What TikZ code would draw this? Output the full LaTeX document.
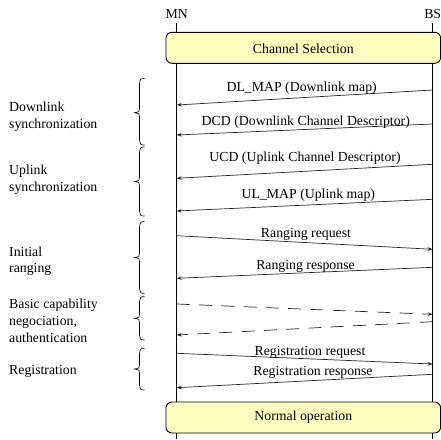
\documentclass[tikz,border=0pt]{standalone}
\usepackage{fontspec}
\setmainfont{Liberation Serif}
\usetikzlibrary{arrows.meta}
\definecolor{phasefill}{HTML}{FFFFC0}

% left curly brace: top, bottom, middle (tip)
\newcommand\sidebrace[3]{%
  \draw[bracestroke] (144.5,#1) .. controls (140.5,#1) .. (139.5,#1+5)
    -- (139.5,#3-4) .. controls (139.5,#3-1) .. (134.5,#3)
    .. controls (139.5,#3+1) .. (139.5,#3+4)
    -- (139.5,#2-5) .. controls (140.5,#2) .. (144.5,#2);}

\begin{document}
\begin{tikzpicture}[x=1pt,y=-1pt,
  every node/.style={font=\fontsize{13.8}{16.7}\selectfont, inner sep=0pt},
  lifeline/.style={line width=0.9pt},
  msg/.style={line width=0.7pt, draw=black!85, -{Stealth[length=5pt,width=3.6pt]}},
  msgdash/.style={msg, dash pattern=on 13pt off 9.3pt},
  phase/.style={draw, line width=0.9pt, rounded corners=6pt, fill=phasefill,
    minimum width=274.7pt, minimum height=31pt},
  msglabel/.style={anchor=base},
  sidelabel/.style={anchor=north west, align=left},
  bracestroke/.style={line width=0.6pt}
]
\useasboundingbox (0,0) rectangle (441,439);

% participants and lifelines
\node[anchor=base] (mn) at (176.7,18.3) {MN};
\node[anchor=base] (bs) at (432.7,18.3) {BS};
\coordinate (mntop) at (176.7,23);
\coordinate (mnbot) at (176.7,439);
\coordinate (bstop) at (432.7,23);
\coordinate (bsbot) at (432.7,439);
\draw[lifeline] (mntop) -- (mnbot);
\draw[lifeline] (bstop) -- (bsbot);

% phase boxes spanning both lifelines
\node[phase, text height=11.6pt, text depth=0pt] (chsel) at (303.3,47.8) {Channel Selection};
\node[phase] (normop) at (303.3,417.5) {Normal operation};

% message end points on the lifelines
\coordinate (b1) at (432.7,90);    \coordinate (m1) at (176.7,105);
\coordinate (b2) at (432.7,124);   \coordinate (m2) at (176.7,135);
\coordinate (b3) at (432.7,164.3); \coordinate (m3) at (176.7,178.3);
\coordinate (b4) at (432.7,199.3); \coordinate (m4) at (176.7,211);
\coordinate (m5) at (176.7,235.7); \coordinate (b5) at (432.7,249.3);
\coordinate (b6) at (432.7,267.3); \coordinate (m6) at (176.7,278.3);
\coordinate (m7) at (176.7,304);   \coordinate (b7) at (432.7,314.3);
\coordinate (b8) at (432.7,321.7); \coordinate (m8) at (176.7,335);
\coordinate (m9) at (176.7,353.3); \coordinate (b9) at (432.7,364);
\coordinate (b10) at (432.7,374.3); \coordinate (m10) at (176.7,387.7);

% messages
\draw[msg] (b1) -- (m1);
\node[msglabel] (l1) at (301.7,91.7) {DL\_MAP (Downlink map)};
\draw[msg] (b2) -- (m2);
\node[msglabel] (l2) at (305.8,125.5) {DCD (Downlink Channel Descriptor)};
\draw[msg] (b3) -- (m3);
\node[msglabel] (l3) at (305,161.7) {UCD (Uplink Channel Descriptor)};
\draw[msg] (b4) -- (m4);
\node[msglabel] (l4) at (308.3,198.3) {UL\_MAP (Uplink map)};
\draw[msg] (m5) -- (b5);
\node[msglabel] (l5) at (306,237.3) {Ranging request};
\draw[msg] (b6) -- (m6);
\node[msglabel] (l6) at (305.5,269) {Ranging response};
\draw[msgdash] (m7) -- (b7);
\draw[msgdash] (b8) -- (m8);
\draw[msg] (m9) -- (b9);
\node[msglabel] (l9) at (310,355) {Registration request};
\draw[msg] (b10) -- (m10);
\node[msglabel] (l10) at (313,375.7) {Registration response};

% phase braces and their captions
\sidebrace{78.5}{145}{112.7}
\sidebrace{147}{216}{181.5}
\sidebrace{221.7}{293.3}{257.5}
\sidebrace{296.7}{340}{318.3}
\sidebrace{348.3}{390}{369}

\node[sidelabel] (p1) at (9,102) {Downlink\\synchronization};
\node[sidelabel] (p2) at (9,164.7) {Uplink\\synchronization};
\node[sidelabel] (p3) at (9,246.4) {Initial\\ranging};
\node[sidelabel] (p4) at (9,299) {Basic capability\\negociation,\\authentication};
\node[sidelabel] (p5) at (9,364.7) {Registration};
\end{tikzpicture}
\end{document}
